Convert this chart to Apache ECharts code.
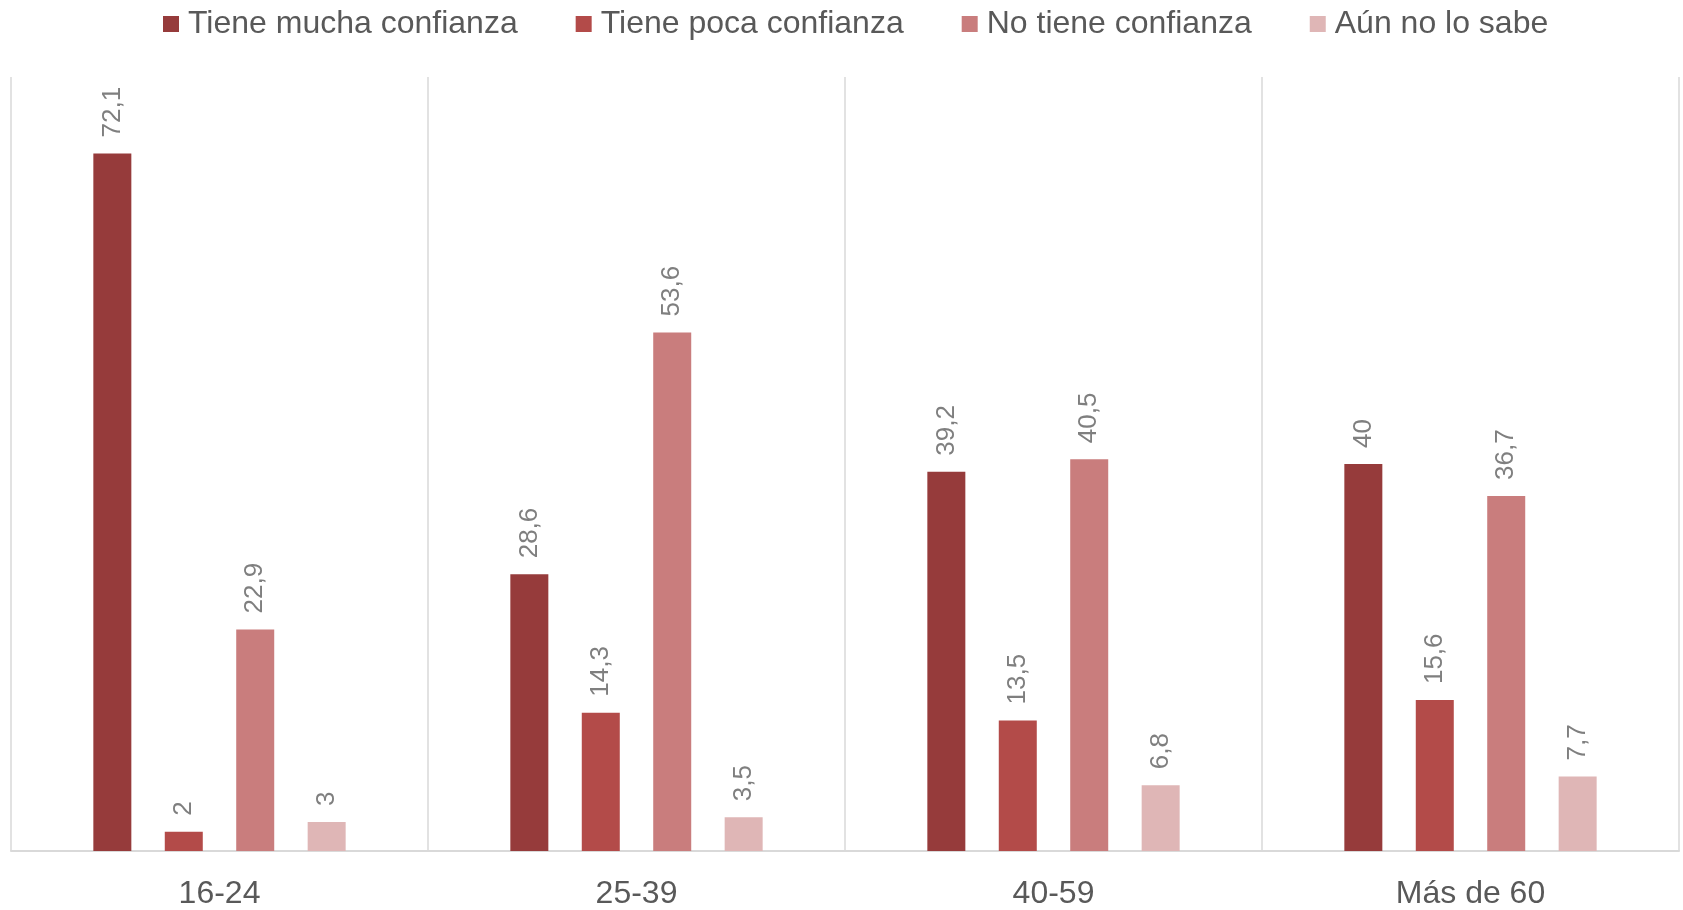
<!DOCTYPE html>
<html lang="es">
<head>
    <meta charset="UTF-8">
    <title>Confianza por edad</title>
    <style>
        html, body { margin: 0; padding: 0; background: #fff; }
        #container { width: 1683px; height: 910px; }
    </style>
    <script src="https://cdn.jsdelivr.net/npm/echarts@6/dist/echarts.min.js"></script>
</head>
<body>
<div id="container"></div>
<script type="text/javascript">
    // datos
    var categories = ['16-24', '25-39', '40-59', 'Más de 60'];
    var seriesNames = ['Tiene mucha confianza', 'Tiene poca confianza', 'No tiene confianza', 'Aún no lo sabe'];
    var muchaConfianza = [72.1, 28.6, 39.2, 40];
    var pocaConfianza = [2, 14.3, 13.5, 15.6];
    var noConfianza = [22.9, 53.6, 40.5, 36.7];
    var noLoSabe = [3, 3.5, 6.8, 7.7];
    var colors = ['#963b3b', '#b34b49', '#c97d7d', '#dfb6b6'];

    var myChart = echarts.init(document.getElementById('container'));
    var values = [muchaConfianza, pocaConfianza, noConfianza, noLoSabe];

    var series = [];
    for (let i = 0; i < seriesNames.length; i++) {
        series.push({
            name: seriesNames[i],
            type: 'bar',
            data: values[i],
            barWidth: 38,
            barGap: '88%',
            itemStyle: { color: colors[i] },
            label: {
                show: true,
                position: 'top',
                rotate: 90,
                align: 'left',
                verticalAlign: 'middle',
                distance: 16,
                color: '#7f7f7f',
                fontSize: 26,
                fontFamily: 'Liberation Sans',
                formatter: function (p) {
                    return String(p.value).replace('.', ',');
                }
            }
        });
    }

    var option = {
        animation: false,
        color: colors,
        legend: {
            top: 3,
            left: 158,
            data: seriesNames,
            icon: 'rect',
            itemWidth: 16,
            itemHeight: 16,
            itemGap: 58,
            textStyle: {
                color: '#595959',
                fontSize: 32,
                fontFamily: 'Liberation Sans',
                padding: [0, 0, 0, 4]
            }
        },
        grid: { left: 11, right: 4, top: 77, bottom: 58 },
        xAxis: {
            type: 'category',
            data: categories,
            axisLine: { lineStyle: { color: '#d9d9d9', width: 2 } },
            axisTick: { show: false },
            splitLine: { show: true, lineStyle: { color: '#d9d9d9', width: 1.5 } },
            axisLabel: {
                color: '#595959',
                fontSize: 32,
                margin: 27,
                fontFamily: 'Liberation Sans'
            }
        },
        yAxis: {
            type: 'value',
            min: 0,
            max: 80,
            show: false
        },
        series
    };

    myChart.setOption(option);
</script>
</body>
</html>
